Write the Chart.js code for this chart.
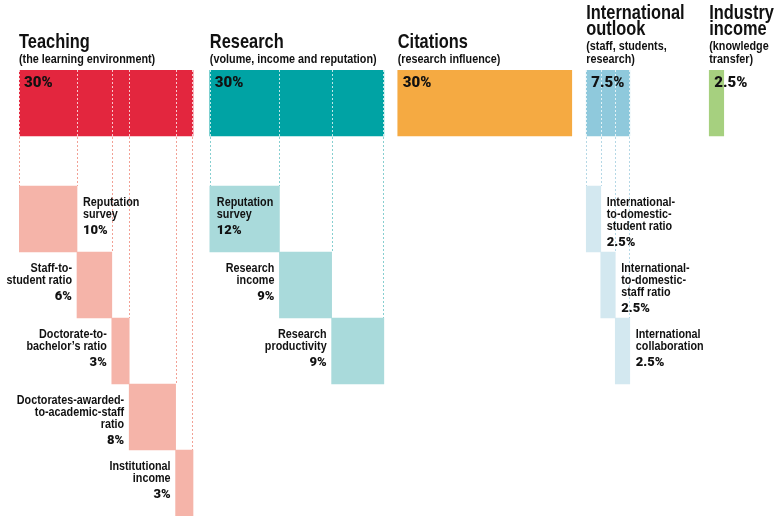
<!DOCTYPE html>
<html><head><meta charset="utf-8">
<script src="https://cdn.jsdelivr.net/npm/chart.js@4.4.1/dist/chart.umd.min.js"></script>
<style>html,body{margin:0;padding:0;background:#fff;}#wrap{position:relative;width:780px;height:523px;}</style>
</head><body><div id="wrap"><canvas id="c"></canvas></div>
<script>
// ---------- DATA ----------
const groupTitleLines = [['Teaching'], ['Research'], ['Citations'], ['International', 'outlook'], ['Industry', 'income']];
const groupSubtitleLines = [['(the learning environment)'], ['(volume, income and reputation)'], ['(research influence)'], ['(staff, students,', 'research)'], ['(knowledge', 'transfer)']];
const groupWeights = [30, 30, 30, 7.5, 2.5];

const teachingLabels = ['Reputation\nsurvey', 'Staff-to-\nstudent ratio', 'Doctorate-to-\nbachelor’s ratio', 'Doctorates-awarded-\nto-academic-staff\nratio', 'Institutional\nincome'];
const teachingWeights = [10, 6, 3, 8, 3];
const researchLabels = ['Reputation\nsurvey', 'Research\nincome', 'Research\nproductivity'];
const researchWeights = [12, 9, 9];
const internationalLabels = ['International-\nto-domestic-\nstudent ratio', 'International-\nto-domestic-\nstaff ratio', 'International\ncollaboration'];
const internationalWeights = [2.5, 2.5, 2.5];

// ---------- LAYOUT / STYLE ----------
const GROUP_GAPS = [0, 2.9, 2.4, 2.5, 13.7];      // empty space before each group (x units)
const X_MAX = 131.2;
const ROW_GAP = 50 / 66;                          // gap between main row and first sub row (row units)
const mainColors = ['#E3263E', '#00A3A4', '#F5AA42', '#8FC9DC', '#A6D07F'];
const subColors = {0: '#F5B4A9', 1: '#A9DADB', 3: '#D3E8F0'};
const lineColors = {0: '#F2A195', 1: '#86CFD0', 3: '#B5D8E6'};
const FONT = '"Liberation Sans", Arial, Roboto, sans-serif';
const HEAVY = 'Roboto, "Liberation Sans", Arial, sans-serif';
const NARROW_SCALE = 0.8;

const subGroups = [
  {group: 0, labels: teachingLabels, weights: teachingWeights, side: ['right', 'left', 'left', 'left', 'left']},
  {group: 1, labels: researchLabels, weights: researchWeights, side: ['inside', 'left', 'left']},
  {group: 3, labels: internationalLabels, weights: internationalWeights, side: ['right', 'right', 'right']}
];

const groupStarts = [];
groupWeights.forEach((w, i) => {
  groupStarts.push(i === 0 ? GROUP_GAPS[0] : groupStarts[i - 1] + groupWeights[i - 1] + GROUP_GAPS[i]);
});

const datasets = [{
  label: 'main',
  data: groupWeights.map((w, i) => ({x: [groupStarts[i], groupStarts[i] + w], y: 0})),
  backgroundColor: mainColors
}];
subGroups.forEach(sg => {
  let cum = groupStarts[sg.group];
  const data = sg.weights.map((w, k) => {
    const d = {x: [cum, cum + w], y: k + 1 + ROW_GAP};
    cum += w;
    return d;
  });
  datasets.push({label: 'sub' + sg.group, data, backgroundColor: subColors[sg.group]});
});

function narrowText(ctx, text, x, y, size, align) {
  ctx.save();
  ctx.translate(x, y);
  ctx.scale(NARROW_SCALE, 1);
  ctx.font = 'bold ' + size + 'px ' + FONT;
  ctx.textAlign = align;
  ctx.fillText(text, 0, 0);
  ctx.restore();
}

const annot = {
  id: 'annot',
  afterDatasetsDraw(chart) {
    const {ctx} = chart;
    const xs = chart.scales.x, ys = chart.scales.y;
    const rowH = Math.abs(ys.getPixelForValue(1) - ys.getPixelForValue(0));
    const mainTop = ys.getPixelForValue(0) - rowH / 2;
    const mainBot = mainTop + rowH;
    const rowTop = r => ys.getPixelForValue(r + 1 + ROW_GAP) - rowH / 2;
    ctx.save();
    // dotted guide lines
    ctx.lineWidth = 1;
    ctx.setLineDash([2, 2]);
    subGroups.forEach(sg => {
      const n = sg.weights.length;
      let cum = groupStarts[sg.group];
      for (let k = 0; k <= n; k++) {
        let px = Math.round(xs.getPixelForValue(cum));
        px = k === n ? px - 0.5 : px + 0.5;
        const bottom = rowTop(Math.max(k - 1, 0));
        ctx.strokeStyle = 'rgba(255,255,255,0.75)';
        ctx.beginPath(); ctx.moveTo(px, mainTop); ctx.lineTo(px, mainBot); ctx.stroke();
        ctx.strokeStyle = lineColors[sg.group];
        ctx.beginPath(); ctx.moveTo(px, mainBot + 1); ctx.lineTo(px, bottom); ctx.stroke();
        if (k < n) cum += sg.weights[k];
      }
    });
    ctx.setLineDash([]);
    ctx.fillStyle = '#111';
    // titles
    groupTitleLines.forEach((tl, i) => {
      const x0 = xs.getPixelForValue(groupStarts[i]);
      const st = groupSubtitleLines[i];
      let base = mainTop - 7;
      for (let j = st.length - 1; j >= 0; j--) { narrowText(ctx, st[j], x0, base, 13.5, 'left'); if (j > 0) base -= 13; }
      base -= 15;
      for (let j = tl.length - 1; j >= 0; j--) { narrowText(ctx, tl[j], x0, base, 20.5, 'left'); if (j > 0) base -= 16; }
      ctx.font = '900 15px ' + HEAVY;
      ctx.textAlign = 'left';
      ctx.fillText(groupWeights[i] + '%', x0 + 5, mainTop + 17);
    });
    // sub labels
    subGroups.forEach(sg => {
      let cum = groupStarts[sg.group];
      sg.weights.forEach((w, k) => {
        const left = xs.getPixelForValue(cum), right = xs.getPixelForValue(cum + w);
        cum += w;
        const top = rowTop(k);
        const side = sg.side[k];
        let tx, align;
        if (side === 'right') { align = 'left'; tx = right + 6; }
        else if (side === 'inside') { align = 'left'; tx = left + 7; }
        else { align = 'right'; tx = left - 5; }
        const lines = sg.labels[k].split('\n');
        let base = top + 20;
        lines.forEach((ln, j) => { narrowText(ctx, ln, tx, base, 13.5, align); if (j < lines.length - 1) base += 12; });
        base += 16;
        ctx.font = '900 13px ' + HEAVY;
        ctx.textAlign = align;
        ctx.fillText(w + '%', tx, base);
      });
    });
    ctx.restore();
  }
};

new Chart(document.getElementById('c'), {
  type: 'bar',
  data: {datasets},
  options: {
    indexAxis: 'y',
    responsive: true,
    maintainAspectRatio: false,
    animation: false,
    grouped: false,
    borderWidth: 0,
    categoryPercentage: 1,
    barPercentage: 1,
    layout: {padding: {left: 19, right: 0, top: 70, bottom: 7}},
    plugins: {legend: {display: false}, tooltip: {enabled: false}},
    scales: {
      x: {type: 'linear', min: 0, max: X_MAX, display: false, offset: false},
      y: {type: 'linear', reverse: true, min: -0.5, max: 5.5 + ROW_GAP, display: false, offset: false,
          afterBuildTicks: s => { s.ticks = []; }}
    }
  },
  plugins: [annot]
});
</script>
</body></html>
